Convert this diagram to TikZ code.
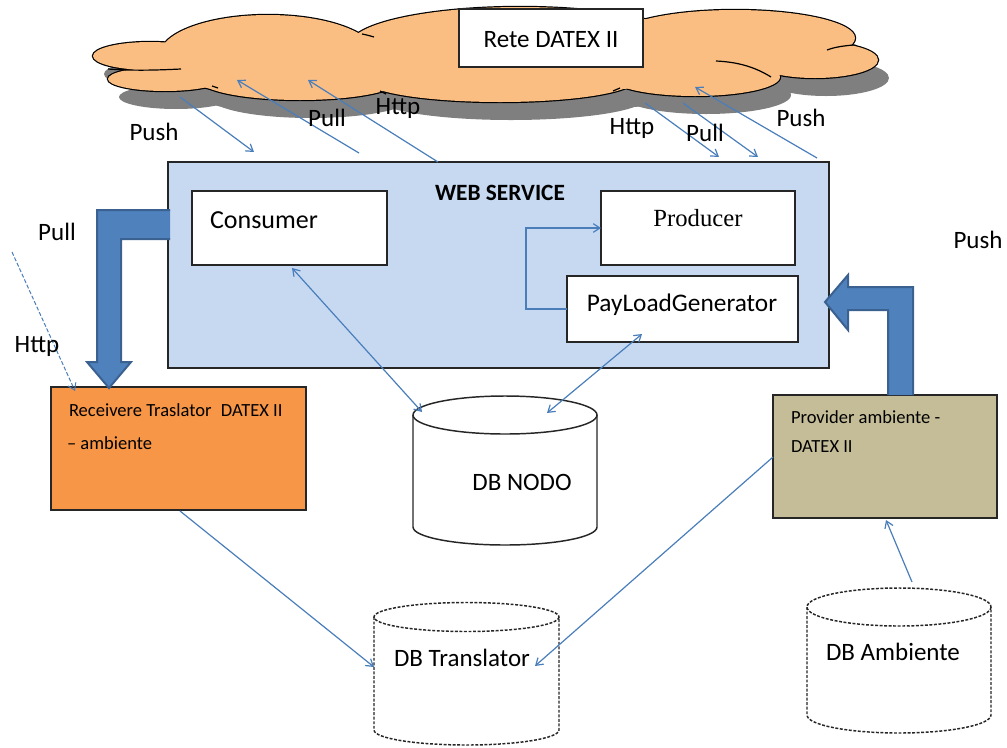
\documentclass[tikz,border=0pt]{standalone}
\usepackage{fontspec}
\setmainfont{Carlito}
\newfontfamily\prodfont{Liberation Serif}
\usetikzlibrary{arrows.meta,calc}

\definecolor{cloudfill}{HTML}{FBBE82}
\definecolor{cloudshadow}{HTML}{7F7F7F}
\definecolor{wsfill}{HTML}{C6D9F1}
\definecolor{rcvfill}{HTML}{F79646}
\definecolor{prvfill}{HTML}{C4BD97}
\definecolor{linkblue}{HTML}{4A7EBB}
\definecolor{bigblue}{HTML}{4F81BD}
\definecolor{bigedge}{HTML}{3A6190}

% database drum: #1 style, #2 centre x, #3 x radius, #4 top y, #5 bottom y, #6 top y radius, #7 bottom y radius
\newcommand\drumshape[7]{%
  \fill[white] ({#2-#3},#4) -- ({#2-#3},#5) arc[start angle=180,end angle=0,x radius=#3,y radius=#7] -- ({#2+#3},#4) -- cycle;
  \fill[white] (#2,#4) ellipse[x radius=#3,y radius=#6];
  \draw[#1] ({#2-#3},#4) -- ({#2-#3},#5) arc[start angle=180,end angle=0,x radius=#3,y radius=#7] -- ({#2+#3},#4);
  \draw[#1] (#2,#4) ellipse[x radius=#3,y radius=#6];
}

\begin{document}
\begin{tikzpicture}[x=0.75pt,y=-0.75pt,
  every node/.style={inner sep=0pt,outer sep=0pt},
  box/.style={draw=black!85,line width=1.1pt},
  lbl/.style={font=\fontsize{18.75}{22}\selectfont},
  boxtxt/.style={font=\fontsize{13.9}{16}\selectfont,anchor=west},
  link/.style={draw=linkblue,line width=0.9pt},
  tip/.style={-{Straight Barb[length=5pt,width=6.5pt]}},
  twotip/.style={{Straight Barb[length=5pt,width=6.5pt]}-{Straight Barb[length=5pt,width=6.5pt]}},
  bigarrow/.style={fill=bigblue,draw=bigedge,line width=1.5pt,line join=miter},
  drumsolid/.style={draw=black!85,line width=1.1pt},
  drumdash/.style={draw=black!85,line width=1.1pt,dash pattern=on 2.2pt off 1.2pt},
  crease/.style={black,line width=0.9pt},
]
\useasboundingbox (0,0) rectangle (1007,747);

% ---------- cloud: union of ellipses, shadow first ----------
\def\lobes{150/56/57/14, 165/79/57/12, 268/55/108/40, 300/80/100/20, 520/45/170/38, 500/80/135/22, 735/38/120/28, 815/60/63/18, 695/77/85/19}
\foreach \cx/\cy/\rx/\ry in \lobes
  \fill[cloudshadow] ({\cx+11},{\cy+18}) ellipse[x radius=\rx,y radius=\ry];
\fill[cloudshadow] (501,80) ellipse[x radius=300,y radius=30];
\foreach \cx/\cy/\rx/\ry in \lobes
  \draw[black,line width=1.8pt] (\cx,\cy) ellipse[x radius=\rx,y radius=\ry];
\foreach \cx/\cy/\rx/\ry in \lobes
  \fill[cloudfill] (\cx,\cy) ellipse[x radius=\rx,y radius=\ry];
\fill[cloudfill] (490,62) ellipse[x radius=300,y radius=30];
% inner creases of the cloud
\draw[crease] (108,69) .. controls (135,71) and (160,70) .. (181,69);
\draw[crease] (853,45) .. controls (843,46) and (835,47) .. (827,50);
\draw[crease] (771,77) .. controls (755,67) and (738,62) .. (716,61);
\draw[crease] (362,34) .. controls (367,35) .. (374,37);
\draw[crease] (380,91) -- (386,94);
\draw[crease] (620,88) -- (613,91);
\draw[crease] (218,88) -- (212,86);

\node[box,fill=white,minimum width=138pt,minimum height=43.5pt] (rete) at (551,38) {};
\node[lbl] (retetxt) at (551,40) {Rete DATEX II};

% ---------- web service ----------
\node[box,fill=wsfill,minimum width=495.75pt,minimum height=154.5pt] (web) at (498.5,265) {};
\node[font=\bfseries\fontsize{17.5}{20}\selectfont] (webtxt) at (500,193) {WEB SERVICE};

\node[box,fill=white,minimum width=146.25pt,minimum height=55.5pt] (consumer) at (289.5,228) {};
\node[font=\fontsize{19.5}{22}\selectfont] (constxt) at (264,220) {Consumer};

\node[box,fill=white,minimum width=145.5pt,minimum height=55.5pt] (producer) at (698,228) {};
\node[font=\prodfont\fontsize{18.5}{22}\selectfont] (prodtxt) at (698,218) {Producer};

\node[box,fill=white,minimum width=173.25pt,minimum height=49.5pt] (payload) at (682.5,309) {};
\node[font=\fontsize{19}{22}\selectfont] (paytxt) at (682,305) {PayLoadGenerator};

% ---------- side boxes ----------
\node[box,fill=rcvfill,minimum width=191.25pt,minimum height=92.25pt] (receiver) at (178.5,448.5) {};
\node[boxtxt] (rcvtxt1) at (69,410) {Receivere Traslator\enspace DATEX II};
\node[boxtxt] (rcvtxt2) at (67,443) {– ambiente};

\node[box,fill=prvfill,minimum width=168pt,minimum height=92.25pt] (provider) at (885,456.5) {};
\node[boxtxt] (prvtxt1) at (791,417) {Provider ambiente -};
\node[boxtxt] (prvtxt2) at (791,447) {DATEX II};

% ---------- bent block arrows ----------
\draw[bigarrow] (170,210) -- (97,210) -- (97,362) -- (87,362) -- (109,388) -- (131,362) -- (121,362) -- (121,239) -- (170,239);
\draw[bigarrow] (888,395) -- (888,310) -- (848,310) -- (848,330) -- (825,302) -- (848,275) -- (848,287) -- (913,287) -- (913,395);

% ---------- databases ----------
\drumshape{drumsolid}{505}{92}{415}{527}{19}{18}
\node[lbl] (nodo) at (522,482) {DB NODO};
\drumshape{drumdash}{466.5}{92.5}{617}{730}{14.5}{15}
\node[lbl] (transl) at (462,658) {DB Translator};
\drumshape{drumdash}{899}{92}{607}{715}{19}{18}
\node[lbl] (amb) at (893,652) {DB Ambiente};

% ---------- connector end points ----------
\coordinate (pushLa) at (180,97);   \coordinate (pushLb) at (254,152);
\coordinate (pullLa) at (359,153);  \coordinate (pullLb) at (237,80);
\coordinate (httpLa) at (438,162);  \coordinate (httpLb) at (308,80);
\coordinate (httpRa) at (645,103);  \coordinate (httpRb) at (719,157);
\coordinate (pullRa) at (683,103);  \coordinate (pullRb) at (758,157);
\coordinate (pushRa) at (817,158);  \coordinate (pushRb) at (695,87);
\coordinate (ext) at (12,252);      \coordinate (rcvin) at (75,391);
\coordinate (consB) at (292,268);   \coordinate (nodoL) at (422,412);
\coordinate (payB) at (642,334);    \coordinate (nodoR) at (547,413);
\coordinate (rcvB) at (180,511);    \coordinate (translL) at (374,667);
\coordinate (prvL) at (773,457);    \coordinate (translR) at (535,666);
\coordinate (ambT) at (912,582);    \coordinate (prvB) at (886,520);

\draw[link,tip] (pushLa) -- (pushLb);
\draw[link,tip] (pullLa) -- (pullLb);
\draw[link,tip] (httpLa) -- (httpLb);
\draw[link,tip] (httpRa) -- (httpRb);
\draw[link,tip] (pullRa) -- (pullRb);
\draw[link,tip] (pushRa) -- (pushRb);
\draw[link,tip,dash pattern=on 3pt off 1.5pt,line width=0.75pt] (ext) -- (rcvin);
\draw[link,twotip] (consB) -- (nodoL);
\draw[link,twotip] (payB) -- (nodoR);
\draw[link,tip] (payload.west) -- ++(-41,0) |- (producer.west);
\draw[link,tip] (rcvB) -- (translL);
\draw[link,tip] (prvL) -- (translR);
\draw[link,tip] (ambT) -- (prvB);

% ---------- protocol labels ----------
\node[lbl] (lpush1) at (154,132) {Push};
\node[lbl] (lpull1) at (327,118) {Pull};
\node[lbl] (lhttp1) at (398,108) {Http};
\node[lbl] (lhttp2) at (632,128) {Http};
\node[lbl] (lpull2) at (705,133) {Pull};
\node[lbl] (lpush2) at (801,118) {Push};
\node[lbl] (lpull3) at (57,232) {Pull};
\node[lbl] (lhttp3) at (37,346) {Http};
\node[lbl] (lpush3) at (978,240) {Push};
\end{tikzpicture}
\end{document}
